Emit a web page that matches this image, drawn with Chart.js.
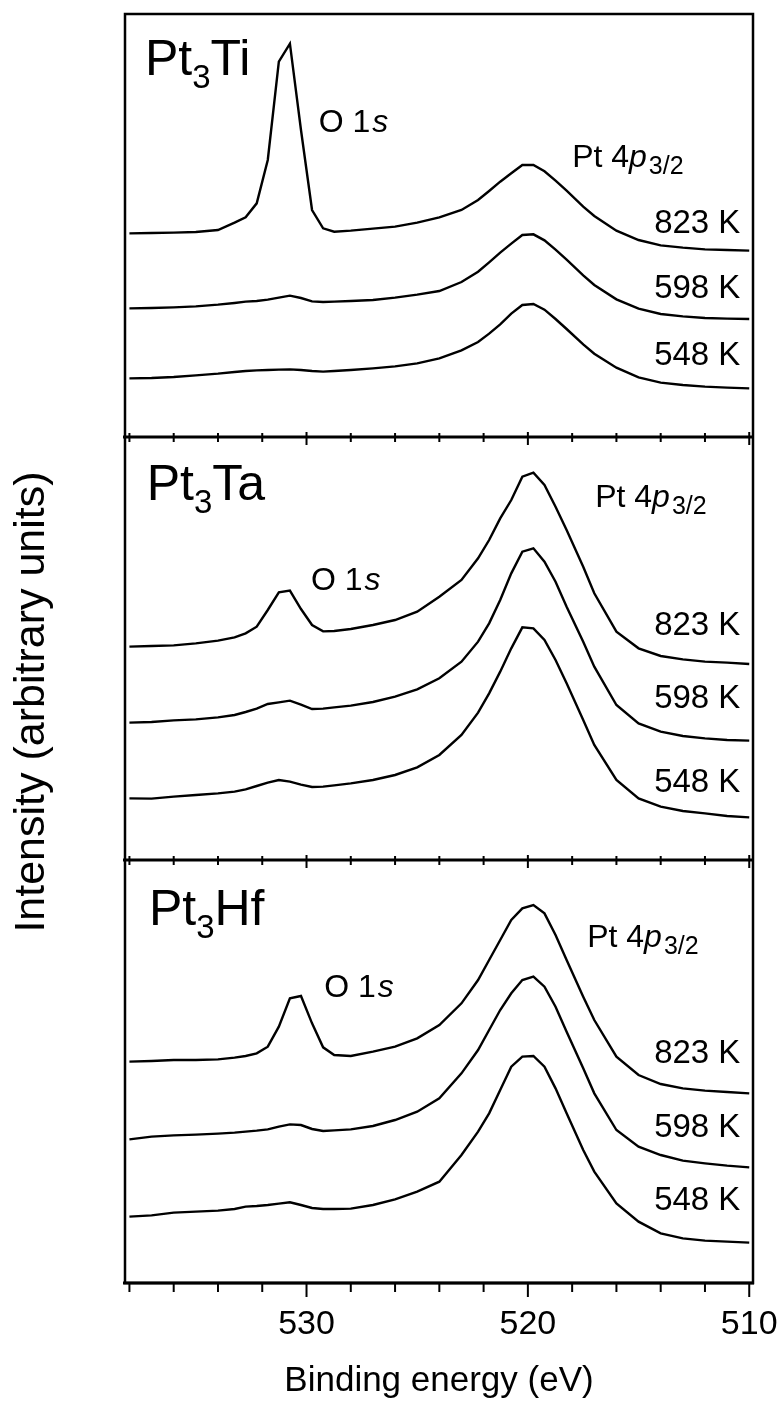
<!DOCTYPE html>
<html>
<head>
<meta charset="utf-8">
<script src="https://cdn.jsdelivr.net/npm/chart.js@4"></script>
<style>
  html, body { margin: 0; padding: 0; background: #fff; }
  canvas { display: block; }
</style>
</head>
<body>
<canvas id="xps" width="782" height="1406"></canvas>
<script>
// binding energy grid (eV), shared by all spectra
const energy = [538, 537, 536, 535, 534, 533.25, 532.75, 532.25, 531.75, 531.25, 530.75, 530.25, 529.75, 529.25, 528.75,
  528, 527, 526, 525, 524, 523, 522.25, 521.75, 521.25, 520.75, 520.25, 519.75, 519.25, 518.75, 518.25,
  517.5, 517, 516, 515, 514, 513, 512, 511, 510];

// intensities (arbitrary units, already offset for stacking)
const ti823 = [61.1, 61.2, 61.3, 61.5, 62.1, 64.3, 65.9, 70.1, 83.1, 112.6, 118.0, 92.1, 68.1, 62.6, 61.6,
  61.9, 62.5, 63.1, 64.3, 65.9, 68.1, 71.1, 73.8, 76.6, 79.1, 81.6, 81.6, 79.7, 76.9, 73.9,
  69.1, 66.3, 61.9, 59.1, 57.5, 56.8, 56.3, 56.1, 55.9];
const ti598 = [38.6, 38.7, 38.9, 39.2, 39.7, 40.2, 40.6, 40.8, 41.2, 41.8, 42.4, 41.7, 40.7, 40.5, 40.6,
  40.8, 41.1, 41.8, 42.7, 43.8, 46.5, 49.6, 52.4, 55.3, 58.0, 60.6, 60.8, 59.0, 56.2, 53.2,
  48.5, 45.6, 41.3, 38.5, 36.9, 36.2, 35.7, 35.5, 35.4];
const ti548 = [17.6, 17.7, 18.0, 18.5, 19.0, 19.5, 19.8, 20.0, 20.1, 20.2, 20.3, 20.1, 19.8, 19.6, 19.8,
  20.1, 20.6, 21.2, 22.1, 23.6, 26.0, 28.5, 31.0, 33.8, 37.0, 39.6, 39.9, 38.2, 35.4, 32.4,
  27.8, 25.0, 20.8, 17.9, 16.3, 15.6, 15.1, 14.8, 14.6];

const ta823 = [64.0, 64.2, 64.4, 65.0, 65.8, 66.8, 68.0, 70.0, 75.0, 80.3, 80.8, 75.3, 70.5, 68.6, 68.7,
  69.3, 70.5, 72.0, 74.5, 79.0, 84.0, 90.5, 96.0, 102.5, 108.0, 115.0, 116.2, 112.5, 106.0, 99.0,
  88.0, 80.0, 68.5, 63.5, 61.2, 60.2, 59.5, 59.2, 58.8];
const ta598 = [41.2, 41.4, 41.9, 42.2, 42.8, 43.5, 44.4, 45.4, 46.8, 47.3, 47.8, 46.6, 45.3, 45.4, 45.8,
  46.3, 47.4, 49.0, 51.2, 54.5, 59.5, 65.5, 71.0, 78.0, 86.0, 92.5, 93.5, 89.5, 83.5, 76.0,
  65.5, 58.0, 46.5, 41.0, 38.5, 37.2, 36.5, 36.0, 35.8];
const ta548 = [18.5, 18.4, 19.0, 19.5, 20.0, 20.5, 21.2, 22.2, 23.2, 24.0, 23.5, 22.6, 21.9, 22.0, 22.4,
  23.0, 24.0, 25.5, 27.8, 31.5, 37.5, 44.2, 50.0, 56.5, 63.5, 69.8, 69.5, 66.0, 60.0, 53.0,
  42.0, 34.5, 24.0, 18.5, 16.0, 14.7, 14.0, 13.2, 12.8];

const hf823 = [66.4, 66.6, 66.9, 66.9, 67.1, 67.6, 68.1, 68.9, 70.9, 76.9, 85.4, 86.1, 77.9, 70.7, 68.4,
  68.1, 69.4, 70.9, 73.4, 77.4, 83.9, 90.9, 96.9, 102.9, 108.9, 112.4, 113.4, 110.9, 104.4, 96.9,
  85.9, 78.9, 67.9, 62.4, 59.7, 58.4, 57.7, 57.3, 56.9];
const hf598 = [43.1, 43.9, 44.3, 44.5, 44.8, 45.1, 45.4, 45.7, 46.1, 46.9, 47.6, 47.4, 46.2, 45.6, 45.8,
  46.1, 47.1, 48.9, 51.4, 55.4, 62.9, 69.9, 75.9, 81.9, 86.9, 90.9, 91.9, 88.9, 82.9, 75.4,
  64.4, 56.9, 45.9, 40.9, 38.4, 36.7, 35.9, 35.2, 34.7];
const hf548 = [19.9, 20.3, 21.1, 21.4, 21.7, 22.2, 22.9, 23.1, 23.4, 23.8, 24.2, 23.4, 22.5, 22.2, 22.2,
  22.3, 23.4, 25.1, 27.4, 30.4, 38.4, 45.4, 50.9, 57.9, 64.9, 67.9, 68.1, 64.9, 58.4, 50.9,
  39.9, 33.4, 23.9, 18.4, 14.9, 13.4, 12.7, 12.4, 12.1];

const alloys = ['Ti', 'Ta', 'Hf'];
const temps = ['823 K', '598 K', '548 K'];
const minorTicks = [538, 536, 534, 532, 530, 528, 526, 524, 522, 520, 518, 516, 514, 512, 510];
const majorTicks = [530, 520, 510];

const FONT = "'Liberation Sans', Arial, Helvetica, sans-serif";
const panelAxes = ['yTi', 'yTa', 'yHf'];
const spectra = [[ti823, ti598, ti548], [ta823, ta598, ta548], [hf823, hf598, hf548]];

const datasets = [];
spectra.forEach((group, p) => {
  group.forEach((vals, k) => {
    datasets.push({
      label: 'Pt3' + alloys[p] + ' ' + temps[k],
      data: energy.map((e, i) => ({ x: e, y: vals[i] })),
      yAxisID: panelAxes[p],
      borderColor: '#000',
      borderWidth: 2.4,
      pointRadius: 0,
      tension: 0,
      fill: false
    });
  });
});

function panelScale(weight) {
  return {
    type: 'linear',
    position: 'left',
    stack: 'panels',
    stackWeight: 1,
    weight: weight,
    min: 0,
    max: 126.9,
    ticks: { display: false },
    grid: { display: false, drawTicks: false },
    border: { display: false }
  };
}

// draw a run of text pieces (subscripts / italics)
function drawParts(ctx, parts, x, y, align) {
  const widths = parts.map(p => {
    ctx.font = (p.italic ? 'italic ' : '') + p.size + 'px ' + FONT;
    return ctx.measureText(p.t).width + (p.gap || 0);
  });
  let cx = align === 'right' ? x - widths.reduce((a, b) => a + b, 0) : x;
  parts.forEach((p, i) => {
    ctx.font = (p.italic ? 'italic ' : '') + p.size + 'px ' + FONT;
    cx += p.gap || 0;
    ctx.fillText(p.t, cx, y + (p.dy || 0));
    cx += widths[i] - (p.gap || 0);
  });
}

// label positions in data units: [energy, intensity]
const notes = [
  { name: [537.3, 108.6], o1s: [529.45, 91.6], pt: [518.0, 81.1], temps: [61.1, 41.6, 21.6] },
  { name: [537.22, 108.0], o1s: [529.8, 81.0], pt: [516.96, 106.0], temps: [67.5, 45.5, 20.5] },
  { name: [537.12, 107.4], o1s: [529.2, 85.8], pt: [517.32, 100.9], temps: [66.0, 43.9, 21.9] }
];

const framePlugin = {
  id: 'frame',
  afterDatasetsDraw(chart) {
    const { ctx, chartArea: a, scales } = chart;
    const x = scales.x;
    const line = (x1, y1, x2, y2) => { ctx.beginPath(); ctx.moveTo(x1, y1); ctx.lineTo(x2, y2); ctx.stroke(); };
    ctx.save();
    ctx.strokeStyle = '#000';
    ctx.lineWidth = 2.5;
    ctx.strokeRect(a.left, a.top, a.right - a.left, a.bottom - a.top);

    panelAxes.forEach((id, i) => {
      const yb = scales[id].bottom;
      const last = i === panelAxes.length - 1;
      ctx.lineWidth = 2.8;
      line(a.left - 2, yb, a.right + 1, yb);
      ctx.lineWidth = 2;
      minorTicks.forEach(v => {
        const px = x.getPixelForValue(v);
        const major = majorTicks.includes(v);
        const up = last ? 0 : (major ? 5 : 4);
        const down = last ? (major ? 14 : 9) : (major ? 8 : 5);
        line(px, yb - up, px, yb + down);
      });
    });

    // text
    ctx.fillStyle = '#000';
    ctx.textBaseline = 'alphabetic';
    ctx.textAlign = 'left';
    notes.forEach((n, i) => {
      const y = scales[panelAxes[i]];
      const px = v => x.getPixelForValue(v);
      drawParts(ctx, [
        { t: 'Pt', size: 50 },
        { t: '3', size: 33, dy: 13 },
        { t: alloys[i], size: 50 }
      ], px(n.name[0]), y.getPixelForValue(n.name[1]), 'left');
      drawParts(ctx, [
        { t: 'O 1', size: 32 },
        { t: 's', size: 32, italic: true, gap: 2 }
      ], px(n.o1s[0]), y.getPixelForValue(n.o1s[1]), 'left');
      drawParts(ctx, [
        { t: 'Pt 4', size: 32 },
        { t: 'p', size: 32, italic: true },
        { t: '3/2', size: 25, dy: 7, gap: 2 }
      ], px(n.pt[0]), y.getPixelForValue(n.pt[1]), 'left');
      temps.forEach((t, k) => {
        drawParts(ctx, [{ t: t, size: 33 }], px(510.4), y.getPixelForValue(n.temps[k]), 'right');
      });
    });

    // shared y title
    ctx.save();
    ctx.translate(44, 702);
    ctx.rotate(-Math.PI / 2);
    ctx.textAlign = 'center';
    ctx.font = '43px ' + FONT;
    ctx.fillText('Intensity (arbitrary units)', 0, 0);
    ctx.restore();

    ctx.restore();
  }
};

new Chart(document.getElementById('xps'), {
  type: 'line',
  data: { datasets: datasets },
  options: {
    responsive: false,
    animation: false,
    devicePixelRatio: 1,
    layout: { padding: { left: 125, right: 29, top: 14, bottom: 0 } },
    plugins: { legend: { display: false }, tooltip: { enabled: false } },
    scales: {
      x: {
        type: 'linear',
        position: 'bottom',
        min: 509.83,
        max: 538.2,
        reverse: true,
        afterBuildTicks: s => { s.ticks = minorTicks.map(v => ({ value: v })); },
        afterFit: s => { s.height = 123; },
        ticks: {
          autoSkip: false,
          maxRotation: 0,
          padding: 0,
          color: '#000',
          font: { family: FONT, size: 34 },
          callback: v => majorTicks.includes(v) ? String(v) : ''
        },
        grid: { display: false, drawTicks: true, tickLength: 21 },
        border: { display: false },
        title: {
          display: true,
          text: 'Binding energy (eV)',
          color: '#000',
          font: { family: FONT, size: 35 },
          padding: { top: 0, bottom: 4 }
        }
      },
      yTi: panelScale(3),
      yTa: panelScale(2),
      yHf: panelScale(1)
    }
  },
  plugins: [framePlugin]
});
</script>
</body>
</html>
